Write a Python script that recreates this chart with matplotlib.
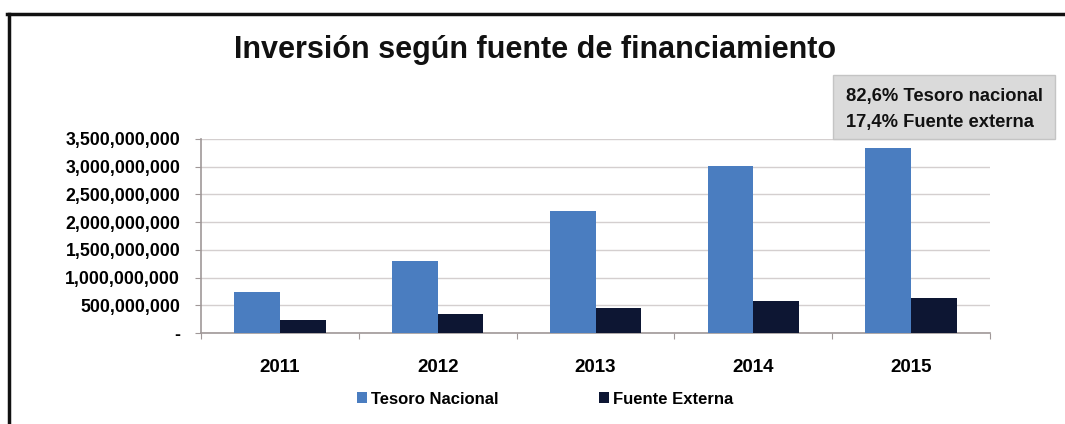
import matplotlib
matplotlib.use("Agg")
import matplotlib.pyplot as plt
from matplotlib.ticker import FuncFormatter, FixedLocator
from matplotlib.patches import Patch, Rectangle
from matplotlib.lines import Line2D
import numpy as np

years = ["2011", "2012", "2013", "2014", "2015"]
tesoro_nacional = [740_000_000, 1_300_000_000, 2_200_000_000, 3_010_000_000, 3_340_000_000]
fuente_externa = [235_000_000, 340_000_000, 450_000_000, 580_000_000, 630_000_000]
series_names = ["Tesoro Nacional", "Fuente Externa"]
note_lines = ["82,6% Tesoro nacional", "17,4% Fuente externa"]
title = "Inversión según fuente de financiamiento"

plt.rcParams["font.family"] = ["Liberation Sans", "DejaVu Sans"]

W, H = 1065, 424
fig = plt.figure(figsize=(W / 100, H / 100), dpi=100)
fig.patch.set_facecolor("white")
ax = fig.add_axes([201 / W, 1 - 333 / H, (990 - 201) / W, (333 - 139) / H])

x = np.arange(len(years))
w = 0.29
ax.bar(x - w / 2, tesoro_nacional, w, color="#4a7dc0", zorder=3)
ax.bar(x + w / 2, fuente_externa, w, color="#0d1633", zorder=3)

ax.set_xlim(-0.5, len(years) - 0.5)
ax.set_ylim(0, 3_500_000_000)
ax.yaxis.set_major_locator(FixedLocator(np.arange(0, 3_500_000_001, 500_000_000)))
ax.yaxis.set_major_formatter(FuncFormatter(lambda v, p: "-" if v == 0 else f"{int(v):,}"))
ax.grid(axis="y", color="#d4cfcf", linewidth=1.0, zorder=0)
ax.set_axisbelow(True)

ax.set_xticks(np.arange(-0.5, len(years), 1.0))
ax.set_xticklabels([])
ax.set_xticks(x, minor=True)
ax.set_xticklabels(years, minor=True)
ax.tick_params(axis="x", which="minor", length=0, pad=19)
ax.tick_params(axis="x", which="major", length=4, color="#a09898", direction="out")
ax.tick_params(axis="y", length=4, color="#a09898", pad=11)
for lbl in ax.get_yticklabels():
    lbl.set_fontsize(12.8)
    lbl.set_fontweight("bold")
for lbl in ax.get_xticklabels(minor=True):
    lbl.set_fontsize(13.5)
    lbl.set_fontweight("bold")

for side in ("top", "right"):
    ax.spines[side].set_visible(False)
for side in ("left", "bottom"):
    ax.spines[side].set_color("#a09898")
    ax.spines[side].set_linewidth(1.2)

fig.text(535 / W, 1 - 50 / H, title, ha="center", va="center",
         fontsize=22, fontweight="bold", color="#111111")

# note box at top right
fig.add_artist(Rectangle((833 / W, 1 - 139 / H), (1055 - 833) / W, (139 - 75) / H,
                         transform=fig.transFigure, facecolor="#dadada",
                         edgecolor="#c4c4c4", linewidth=1.0))
for i, line in enumerate(note_lines):
    fig.text(846 / W, 1 - (97 + 26 * i) / H, line, ha="left", va="center",
             fontsize=13.2, fontweight="bold", color="#111111")

handles = [Patch(facecolor="#4a7dc0"), Patch(facecolor="#0d1633")]
fig.legend(handles, series_names, loc="center", bbox_to_anchor=(545 / W, 1 - 399 / H),
           ncol=2, frameon=False, handlelength=0.6, handleheight=0.6, handletextpad=0.25,
           columnspacing=6, prop=dict(size=12, weight="bold"))

# outer frame lines
fig.add_artist(Line2D([9 / W, 9 / W], [0, 1 - 14 / H], color="#111111", lw=2.5,
                      transform=fig.transFigure))
fig.add_artist(Line2D([7 / W, 1], [1 - 14 / H, 1 - 14 / H], color="#111111", lw=2.5,
                      transform=fig.transFigure))

fig.savefig("out.png", dpi=100)
